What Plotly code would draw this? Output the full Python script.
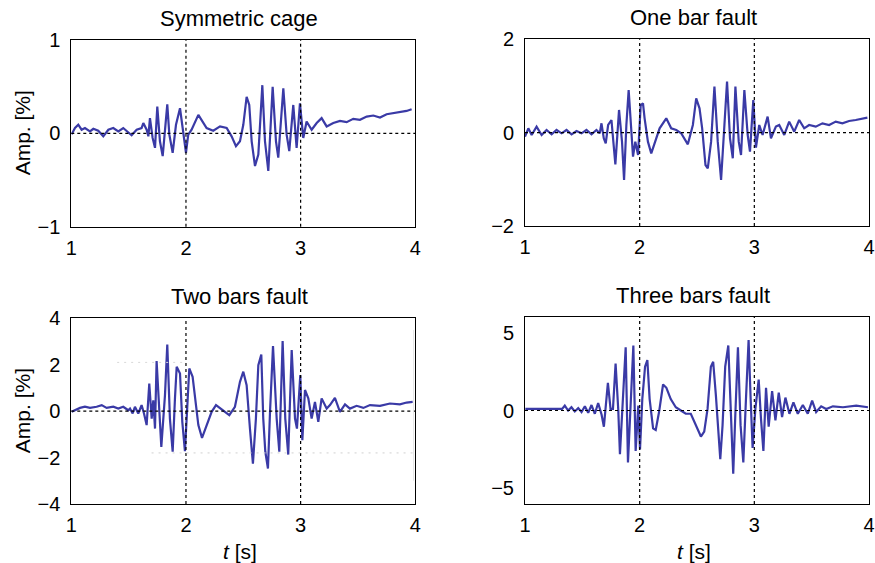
import plotly.graph_objects as go

# ---------------- data ----------------
t_sym = [1.003, 1.032, 1.061, 1.090, 1.119, 1.163, 1.192, 1.235, 1.279, 1.323, 1.366, 1.410, 1.453,
         1.497, 1.526, 1.570, 1.613, 1.628, 1.657, 1.672, 1.686, 1.709, 1.730, 1.750, 1.773, 1.797,
         1.837, 1.855, 1.884, 1.913, 1.948, 1.977, 2.000, 2.020, 2.049, 2.108, 2.180, 2.238, 2.297,
         2.355, 2.398, 2.436, 2.471, 2.500, 2.529, 2.552, 2.573, 2.602, 2.631, 2.666, 2.689, 2.718,
         2.756, 2.785, 2.805, 2.849, 2.878, 2.901, 2.936, 2.965, 2.994, 3.023, 3.052, 3.096, 3.140,
         3.183, 3.227, 3.285, 3.343, 3.401, 3.459, 3.517, 3.576, 3.634, 3.692, 3.750, 3.808, 3.866,
         3.924, 3.968]
amp_sym = [-0.01, 0.057, 0.092, 0.039, 0.057, 0.021, 0.049, 0.028, -0.032, 0.039, 0.057, 0.021, 0.057,
           0.014, -0.021, 0.039, 0.057, 0.110, 0.039, -0.032, 0.163, -0.049, -0.155, 0.286, -0.085, -0.244,
           0.311, -0.014, -0.208, 0.092, 0.269, 0.004, -0.208, -0.014, 0.039, 0.198, 0.057, 0.028, 0.074,
           0.057, -0.032, -0.138, -0.085, 0.092, 0.392, 0.304, -0.085, -0.350, -0.226, 0.516, -0.085, -0.403,
           0.498, -0.085, -0.261, 0.481, -0.014, -0.191, 0.304, -0.155, 0.322, -0.049, 0.127, 0.039, 0.110,
           0.163, 0.074, 0.110, 0.134, 0.120, 0.155, 0.145, 0.180, 0.191, 0.170, 0.205, 0.216, 0.233,
           0.240, 0.258]

t_one = [1.000, 1.029, 1.058, 1.101, 1.145, 1.188, 1.232, 1.275, 1.319, 1.362, 1.406, 1.449, 1.493,
         1.536, 1.580, 1.623, 1.652, 1.667, 1.687, 1.704, 1.725, 1.754, 1.768, 1.788, 1.820, 1.846,
         1.864, 1.884, 1.904, 1.922, 1.942, 1.962, 1.986, 2.009, 2.029, 2.043, 2.072, 2.101, 2.145,
         2.174, 2.232, 2.275, 2.319, 2.362, 2.420, 2.464, 2.493, 2.522, 2.545, 2.574, 2.594, 2.623,
         2.652, 2.681, 2.710, 2.739, 2.762, 2.788, 2.812, 2.835, 2.864, 2.884, 2.913, 2.942, 2.962,
         2.991, 3.014, 3.043, 3.072, 3.116, 3.145, 3.188, 3.217, 3.261, 3.304, 3.348, 3.391, 3.435,
         3.478, 3.536, 3.594, 3.652, 3.710, 3.768, 3.826, 3.884, 3.942, 3.986]
amp_one = [-0.086, 0.093, -0.05, 0.129, -0.05, 0.057, -0.036, 0.057, -0.014, 0.057, -0.036, 0.036, -0.014,
           0.057, -0.036, 0.057, -0.014, 0.200, -0.121, -0.229, 0.164, 0.271, -0.121, -0.679, 0.486, -0.193,
           -1.014, 0.164, 0.914, 0.164, -0.514, -0.193, -0.479, 0.593, 0.629, 0.307, -0.193, -0.443, -0.121,
           0.093, 0.307, 0.093, 0.057, -0.014, -0.25, 0.164, 0.736, 0.521, 0.093, -0.693, -0.764, -0.193,
           0.986, -0.193, -1.014, 0.164, 1.093, -0.121, -0.55, 0.986, -0.193, -0.479, 0.914, -0.05, -0.407,
           0.700, -0.321, 0.164, -0.05, 0.343, -0.121, 0.129, 0.164, -0.05, 0.236, 0.021, 0.271, 0.093,
           0.164, 0.129, 0.200, 0.164, 0.236, 0.200, 0.25, 0.271, 0.293, 0.321]

t_two = [1.003, 1.076, 1.119, 1.163, 1.221, 1.265, 1.308, 1.366, 1.410, 1.453, 1.497, 1.512, 1.535,
         1.555, 1.584, 1.613, 1.634, 1.657, 1.680, 1.701, 1.715, 1.730, 1.744, 1.767, 1.785, 1.817,
         1.837, 1.860, 1.884, 1.904, 1.919, 1.948, 1.968, 1.991, 2.006, 2.029, 2.058, 2.078, 2.108,
         2.140, 2.180, 2.224, 2.262, 2.326, 2.378, 2.427, 2.471, 2.500, 2.529, 2.558, 2.584, 2.610,
         2.631, 2.657, 2.674, 2.692, 2.715, 2.733, 2.759, 2.791, 2.814, 2.843, 2.866, 2.892, 2.922,
         2.951, 2.968, 2.997, 3.015, 3.038, 3.067, 3.096, 3.125, 3.154, 3.183, 3.227, 3.256, 3.299,
         3.343, 3.387, 3.430, 3.488, 3.547, 3.605, 3.692, 3.779, 3.866, 3.924, 3.977]
amp_two = [-0.03, 0.14, 0.19, 0.14, 0.19, 0.26, 0.14, 0.19, 0.11, 0.19, 0.04, 0.11, -0.10,
           0.19, -0.10, 0.26, -0.10, -0.60, 1.19, -0.32, 0.47, -0.75, 2.16, 0.11, -1.54, 0.69,
           2.87, -0.32, -1.75, 0.55, 1.91, 1.62, -0.46, -1.72, -0.46, 1.84, 1.48, 0.55, -0.60,
           -1.15, -0.60, -0.03, 0.26, 0.04, -0.17, 0.19, 1.26, 1.70, 1.12, -0.75, -2.26, -0.32,
           1.98, 2.44, -0.32, -1.75, -2.47, -0.03, 2.80, -0.32, -1.75, 3.02, -0.32, -1.87, 2.63,
           -0.32, -0.75, 1.55, -1.25, 0.91, 0.55, -0.32, 0.40, -0.46, 0.55, 0.11, 0.26, 0.57,
           -0.03, 0.29, 0.11, 0.23, 0.14, 0.26, 0.23, 0.33, 0.29, 0.37, 0.40]

t_three = [1.003, 1.149, 1.324, 1.347, 1.376, 1.405, 1.434, 1.464, 1.493, 1.522, 1.551, 1.580, 1.609,
           1.638, 1.668, 1.688, 1.723, 1.746, 1.767, 1.790, 1.813, 1.828, 1.854, 1.878, 1.898, 1.921,
           1.945, 1.965, 1.988, 2.003, 2.023, 2.047, 2.067, 2.087, 2.117, 2.140, 2.169, 2.204, 2.233,
           2.271, 2.315, 2.359, 2.402, 2.446, 2.490, 2.534, 2.563, 2.592, 2.621, 2.641, 2.665, 2.688,
           2.703, 2.723, 2.746, 2.773, 2.796, 2.816, 2.834, 2.857, 2.880, 2.904, 2.927, 2.950, 2.968,
           2.985, 3.009, 3.038, 3.058, 3.079, 3.102, 3.125, 3.155, 3.184, 3.213, 3.242, 3.271, 3.306,
           3.341, 3.379, 3.423, 3.466, 3.504, 3.539, 3.583, 3.627, 3.685, 3.773, 3.889, 3.991]
amp_three = [0.10, 0.10, 0.10, 0.31, 0.00, 0.21, -0.06, 0.15, -0.10, 0.27, -0.15, 0.35, -0.21,
             0.48, -0.27, -1.04, 1.77, 0.10, 0.10, 3.02, 0.10, -2.81, 0.73, 4.06, -3.33, 0.73,
             4.17, -2.60, 0.31, -2.50, 0.73, 2.81, 3.23, 0.73, -1.15, -1.25, -0.10, 1.67, 1.46,
             0.73, 0.21, 0.00, -0.21, -0.21, -0.94, -1.67, -1.35, 0.10, 2.81, 3.13, 0.94, -1.35,
             -3.13, -0.94, 2.81, 4.17, 0.10, -4.06, -0.31, 4.06, -0.94, -3.33, 0.73, 4.52, 0.73,
             -2.40, 0.10, 1.98, -0.52, -2.60, 1.46, -1.04, 1.25, -0.63, 1.15, -0.42, 0.83, -0.21,
             0.52, -0.21, 0.35, -0.21, 0.63, -0.10, 0.27, 0.10, 0.27, 0.21, 0.31, 0.21]

titles = ["Symmetric cage", "One bar fault", "Two bars fault", "Three bars fault"]
y_ranges = [[-1, 1], [-2, 2], [-4, 4], [-6, 6]]
y_ticks = [[-1, 0, 1], [-2, 0, 2], [-4, -2, 0, 2, 4], [-5, 0, 5]]
x_ticks = [1, 2, 3, 4]
grid_t = [2, 3]
y_label = "Amp. [%]"
x_label = "<i>t</i> [s]"

# ---------------- layout geometry ----------------
W, H = 875, 563
LINE = "#3a3aa6"
FONT = "Liberation Sans, Arial, sans-serif"
TICK_SIZE = 20

doms_x = [[71.3, 415.3], [525, 869], [71.3, 415.3], [525, 869]]
doms_y = [[40, 226.7], [39.3, 226], [318.3, 504], [317, 504]]

series = [(t_sym, amp_sym), (t_one, amp_one), (t_two, amp_two), (t_three, amp_three)]

fig = go.Figure()
layout = dict(width=W, height=H, autosize=False, margin=dict(l=0, r=0, t=0, b=0, autoexpand=False),
              paper_bgcolor="white", plot_bgcolor="white", showlegend=False,
              font=dict(family=FONT, size=TICK_SIZE, color="black"))
shapes = []
annotations = []

for i, (t, a) in enumerate(series):
    k = i + 1
    xa = "x" if k == 1 else f"x{k}"
    ya = "y" if k == 1 else f"y{k}"
    fig.add_trace(go.Scatter(x=t, y=a, xaxis=xa, yaxis=ya, mode="lines",
                             line=dict(color=LINE, width=2.2), hoverinfo="skip"))
    x0, x1 = doms_x[i]
    y0, y1 = doms_y[i]
    layout["xaxis" if k == 1 else f"xaxis{k}"] = dict(
        domain=[x0 / W, x1 / W], range=[1, 4], tickvals=x_ticks, showgrid=False, zeroline=False,
        showline=True, mirror=True, linecolor="black", linewidth=1, ticks="", automargin=False,
        ticklabeloverflow="allow", anchor=ya,
        tickfont=dict(size=TICK_SIZE, family=FONT, color="black"), ticklabelstandoff=3)
    layout["yaxis" if k == 1 else f"yaxis{k}"] = dict(
        domain=[1 - y1 / H, 1 - y0 / H], range=y_ranges[i], tickvals=y_ticks[i], showgrid=False,
        zeroline=False, showline=True, mirror=True, linecolor="black", linewidth=1, ticks="",
        automargin=False, ticklabeloverflow="allow", anchor=xa,
        tickfont=dict(size=TICK_SIZE, family=FONT, color="black"), ticklabelstandoff=6)
    # dotted grid lines
    for g in grid_t:
        shapes.append(dict(type="line", xref=xa, yref=f"{ya} domain", x0=g, x1=g, y0=0, y1=1,
                           line=dict(color="black", width=1.2, dash="3px,3px"), layer="above"))
    shapes.append(dict(type="line", xref=f"{xa} domain", yref=ya, x0=0, x1=1, y0=0, y1=0,
                       line=dict(color="black", width=1.2, dash="3px,3px"), layer="above"))
    # panel title
    annotations.append(dict(text=titles[i], xref="paper", yref="paper", x=((x0 + x1) / 2 - 4) / W,
                            y=1 - (y0 - 22) / H, xanchor="center", yanchor="middle", showarrow=False,
                            font=dict(size=22, family=FONT, color="black")))

# faint scan artefacts in "Two bars fault" panel
shapes.append(dict(type="line", xref="x3", yref="y3", x0=1.4, x1=2.0, y0=2.1, y1=2.1,
                   line=dict(color="#d8d8d8", width=1, dash="2px,5px")))
shapes.append(dict(type="line", xref="x3", yref="y3", x0=1.7, x1=3.98, y0=-1.8, y1=-1.8,
                   line=dict(color="#d0d0d0", width=1, dash="2px,5px")))
shapes.append(dict(type="line", xref="x3", yref="y3", x0=3.985, x1=3.985, y0=-3.0, y1=3.5,
                   line=dict(color="#e6e6e6", width=1)))

for yc in [(40 + 226.7) / 2, (318.3 + 504) / 2]:
    annotations.append(dict(text=y_label, xref="paper", yref="paper", x=22 / W, y=1 - yc / H,
                            xanchor="center", yanchor="middle", textangle=-90, showarrow=False,
                            font=dict(size=21, family=FONT, color="black")))
for xc in [(71.3 + 415.3) / 2, (525 + 869) / 2]:
    annotations.append(dict(text=x_label, xref="paper", yref="paper", x=(xc - 3) / W, y=1 - 551 / H,
                            xanchor="center", yanchor="middle", showarrow=False,
                            font=dict(size=21, family=FONT, color="black")))

layout["shapes"] = shapes
layout["annotations"] = annotations
fig.update_layout(**layout)
fig.write_html("out.html", config={"displayModeBar": False},
               post_script="document.body.style.margin='0';document.body.style.overflow='hidden';")
